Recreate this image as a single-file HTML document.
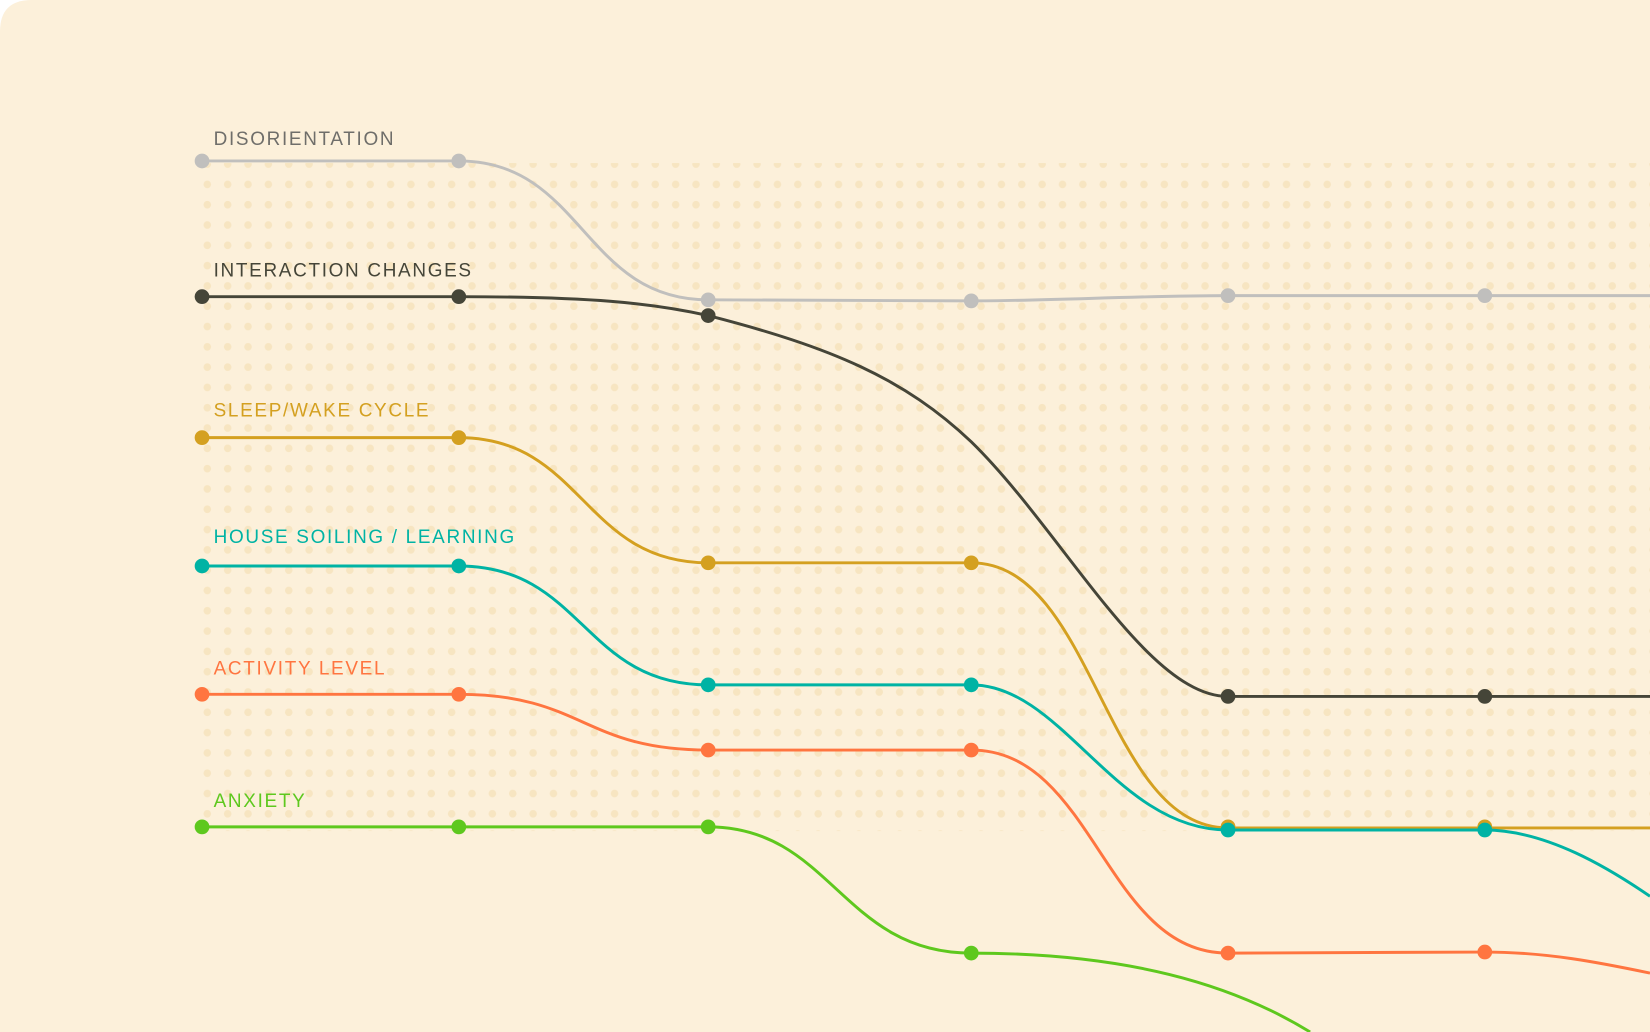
<!DOCTYPE html>
<html><head><meta charset="utf-8"><style>
html,body{margin:0;padding:0;background:#fff;}
svg{display:block;}
text{font-family:"Liberation Sans",sans-serif;font-size:18px;letter-spacing:1.6px;font-weight:500;}
</style></head><body>
<svg width="1650" height="1032" viewBox="0 0 1568 981" preserveAspectRatio="none">
<defs>
<pattern id="dots" x="193" y="152" width="19.35" height="19.3" patternUnits="userSpaceOnUse">
<circle cx="4" cy="4" r="3.6" fill="#f7e4bf" opacity="0.9"/>
</pattern>
</defs>
<path d="M30 0 H1568 V981 H0 V30 Q0 0 30 0 Z" fill="#fcf0da"/>
<rect x="185" y="155" width="1383" height="635" fill="url(#dots)"/>
<g fill="none" stroke-width="2.8">
<path stroke="#c0bfbd" d="M192 153 H436 C554 153 554 285 673 285 L923 286 C1000 286 1080 281 1167 281 L1568 281"/>
<path stroke="#454538" d="M192 282 H436 C560 282 620 288 673 300 C790 330 860 360 923 420 C1010 505 1090 662 1167 662 H1568"/>
<path stroke="#d4a020" d="M192 416 H436 C554 416 554 535 673 535 H923 C1040 535 1050 787 1167 787 H1568"/>
<path stroke="#00b3a4" d="M192 538 H436 C554 538 554 651 673 651 H923 C1010 651 1060 789 1167 789 L1411 789 C1470 789 1530 826 1568 852"/>
<path stroke="#ff7540" d="M192 660 H436 C554 660 554 713 673 713 H923 C1040 713 1050 906 1167 906 L1411 905 C1470 905 1520 915 1568 925"/>
<path stroke="#5ec81e" d="M192 786 H673 C790 786 800 906 923 906 C1070 906 1170 935 1245 981"/>
</g>
<g>
<g fill="#c0bfbd"><circle cx="192" cy="153" r="7"/><circle cx="436" cy="153" r="7"/><circle cx="673" cy="285" r="7"/><circle cx="923" cy="286" r="7"/><circle cx="1167" cy="281" r="7"/><circle cx="1411" cy="281" r="7"/></g>
<g fill="#454538"><circle cx="192" cy="282" r="7"/><circle cx="436" cy="282" r="7"/><circle cx="673" cy="300" r="7"/><circle cx="1167" cy="662" r="7"/><circle cx="1411" cy="662" r="7"/></g>
<g fill="#d4a020"><circle cx="192" cy="416" r="7"/><circle cx="436" cy="416" r="7"/><circle cx="673" cy="535" r="7"/><circle cx="923" cy="535" r="7"/><circle cx="1167" cy="786" r="7"/><circle cx="1411" cy="786" r="7"/></g>
<g fill="#00b3a4"><circle cx="192" cy="538" r="7"/><circle cx="436" cy="538" r="7"/><circle cx="673" cy="651" r="7"/><circle cx="923" cy="651" r="7"/><circle cx="1167" cy="789" r="7"/><circle cx="1411" cy="789" r="7"/></g>
<g fill="#ff7540"><circle cx="192" cy="660" r="7"/><circle cx="436" cy="660" r="7"/><circle cx="673" cy="713" r="7"/><circle cx="923" cy="713" r="7"/><circle cx="1167" cy="906" r="7"/><circle cx="1411" cy="905" r="7"/></g>
<g fill="#5ec81e"><circle cx="192" cy="786" r="7"/><circle cx="436" cy="786" r="7"/><circle cx="673" cy="786" r="7"/><circle cx="923" cy="906" r="7"/></g>
</g>
<text x="203" y="138" fill="#6f6e6a">DISORIENTATION</text>
<text x="203" y="263" fill="#454538">INTERACTION CHANGES</text>
<text x="203" y="396" fill="#d4a020">SLEEP/WAKE CYCLE</text>
<text x="203" y="516" fill="#00b3a4">HOUSE SOILING / LEARNING</text>
<text x="203" y="641" fill="#ff7540">ACTIVITY LEVEL</text>
<text x="203" y="767" fill="#5ec81e">ANXIETY</text>
</svg>
</body></html>
